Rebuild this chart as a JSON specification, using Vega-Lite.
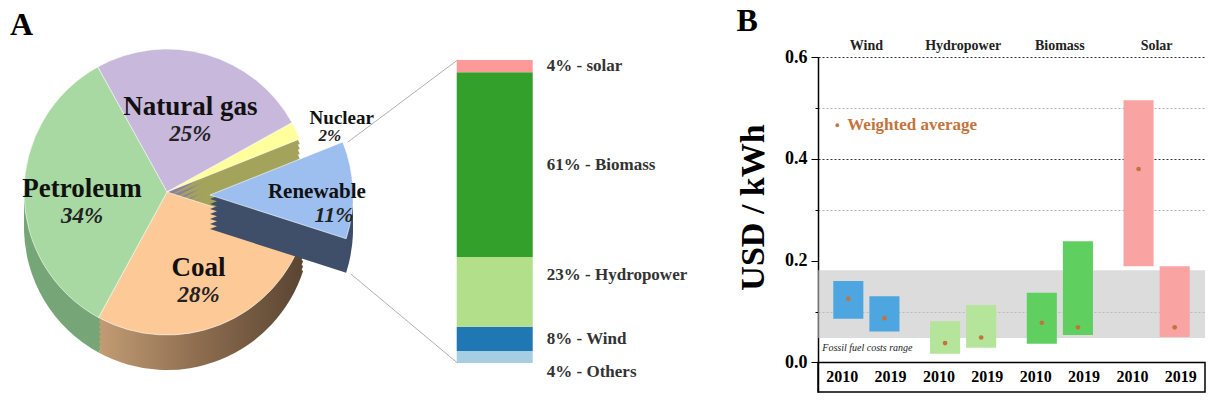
{
  "$schema": "https://vega.github.io/schema/vega-lite/v6.json",
  "padding": {"left": 0, "top": 5, "right": 6, "bottom": 0},
  "bounds": "flush",
  "spacing": 0,
  "resolve": {"scale": {"color": "independent"}},
  "config": {"view": {"stroke": null}, "font": "Liberation Serif"},
  "hconcat": [
    {
      "width": 334,
      "height": 270,
      "title": {"text": "A", "anchor": "start", "frame": "group", "font": "Liberation Serif", "fontSize": 32, "fontWeight": "bold", "color": "black", "offset": 6, "dx": 10},
      "data": {"values": [
        {"source": "Natural gas", "share": 0.25},
        {"source": "Nuclear", "share": 0.02},
        {"source": "Renewable", "share": 0.11},
        {"source": "Coal", "share": 0.28},
        {"source": "Petroleum", "share": 0.34}
      ]},
      "transform": [{"window": [{"op": "row_number", "as": "k"}]}],
      "encoding": {
        "theta": {"field": "share", "type": "quantitative", "stack": true, "scale": {"range": [-0.506, 5.777]}},
        "order": {"field": "k", "type": "quantitative"}
      },
      "layer": [
        {"mark": {"type": "arc", "outerRadius": 143, "yOffset": 35}, "encoding": {"color": {"condition": {"test": "datum.source === 'Coal'", "value": {"gradient": "linear", "x1": 0, "y1": 0, "x2": 1, "y2": 0, "stops": [{"offset": 0, "color": "#c29c74"}, {"offset": 0.5, "color": "#8c6c4e"}, {"offset": 1, "color": "#5a4532"}]}}, "field": "source", "type": "nominal", "legend": null, "scale": {"domain": ["Natural gas", "Nuclear", "Renewable", "Coal", "Petroleum"], "range": ["#8c7fa0", "#a3a35c", "#3f4e69", "#8c6c4e", "#76a677"]}}, "opacity": {"condition": {"test": "datum.source === 'Renewable'", "value": 0}, "value": 1}}},
        {"mark": {"type": "arc", "outerRadius": 143, "yOffset": 30}, "encoding": {"color": {"condition": {"test": "datum.source === 'Coal'", "value": {"gradient": "linear", "x1": 0, "y1": 0, "x2": 1, "y2": 0, "stops": [{"offset": 0, "color": "#c29c74"}, {"offset": 0.5, "color": "#8c6c4e"}, {"offset": 1, "color": "#5a4532"}]}}, "field": "source", "type": "nominal", "legend": null, "scale": {"domain": ["Natural gas", "Nuclear", "Renewable", "Coal", "Petroleum"], "range": ["#8c7fa0", "#a3a35c", "#3f4e69", "#8c6c4e", "#76a677"]}}, "opacity": {"condition": {"test": "datum.source === 'Renewable'", "value": 0}, "value": 1}}},
        {"mark": {"type": "arc", "outerRadius": 143, "yOffset": 25}, "encoding": {"color": {"condition": {"test": "datum.source === 'Coal'", "value": {"gradient": "linear", "x1": 0, "y1": 0, "x2": 1, "y2": 0, "stops": [{"offset": 0, "color": "#c29c74"}, {"offset": 0.5, "color": "#8c6c4e"}, {"offset": 1, "color": "#5a4532"}]}}, "field": "source", "type": "nominal", "legend": null, "scale": {"domain": ["Natural gas", "Nuclear", "Renewable", "Coal", "Petroleum"], "range": ["#8c7fa0", "#a3a35c", "#3f4e69", "#8c6c4e", "#76a677"]}}, "opacity": {"condition": {"test": "datum.source === 'Renewable'", "value": 0}, "value": 1}}},
        {"mark": {"type": "arc", "outerRadius": 143, "yOffset": 20}, "encoding": {"color": {"condition": {"test": "datum.source === 'Coal'", "value": {"gradient": "linear", "x1": 0, "y1": 0, "x2": 1, "y2": 0, "stops": [{"offset": 0, "color": "#c29c74"}, {"offset": 0.5, "color": "#8c6c4e"}, {"offset": 1, "color": "#5a4532"}]}}, "field": "source", "type": "nominal", "legend": null, "scale": {"domain": ["Natural gas", "Nuclear", "Renewable", "Coal", "Petroleum"], "range": ["#8c7fa0", "#a3a35c", "#3f4e69", "#8c6c4e", "#76a677"]}}, "opacity": {"condition": {"test": "datum.source === 'Renewable'", "value": 0}, "value": 1}}},
        {"mark": {"type": "arc", "outerRadius": 143, "yOffset": 15}, "encoding": {"color": {"condition": {"test": "datum.source === 'Coal'", "value": {"gradient": "linear", "x1": 0, "y1": 0, "x2": 1, "y2": 0, "stops": [{"offset": 0, "color": "#c29c74"}, {"offset": 0.5, "color": "#8c6c4e"}, {"offset": 1, "color": "#5a4532"}]}}, "field": "source", "type": "nominal", "legend": null, "scale": {"domain": ["Natural gas", "Nuclear", "Renewable", "Coal", "Petroleum"], "range": ["#8c7fa0", "#a3a35c", "#3f4e69", "#8c6c4e", "#76a677"]}}, "opacity": {"condition": {"test": "datum.source === 'Renewable'", "value": 0}, "value": 1}}},
        {"mark": {"type": "arc", "outerRadius": 143, "yOffset": 10}, "encoding": {"color": {"condition": {"test": "datum.source === 'Coal'", "value": {"gradient": "linear", "x1": 0, "y1": 0, "x2": 1, "y2": 0, "stops": [{"offset": 0, "color": "#c29c74"}, {"offset": 0.5, "color": "#8c6c4e"}, {"offset": 1, "color": "#5a4532"}]}}, "field": "source", "type": "nominal", "legend": null, "scale": {"domain": ["Natural gas", "Nuclear", "Renewable", "Coal", "Petroleum"], "range": ["#8c7fa0", "#a3a35c", "#3f4e69", "#8c6c4e", "#76a677"]}}, "opacity": {"condition": {"test": "datum.source === 'Renewable'", "value": 0}, "value": 1}}},
        {"mark": {"type": "arc", "outerRadius": 143, "yOffset": 5}, "encoding": {"color": {"condition": {"test": "datum.source === 'Coal'", "value": {"gradient": "linear", "x1": 0, "y1": 0, "x2": 1, "y2": 0, "stops": [{"offset": 0, "color": "#c29c74"}, {"offset": 0.5, "color": "#8c6c4e"}, {"offset": 1, "color": "#5a4532"}]}}, "field": "source", "type": "nominal", "legend": null, "scale": {"domain": ["Natural gas", "Nuclear", "Renewable", "Coal", "Petroleum"], "range": ["#8c7fa0", "#a3a35c", "#3f4e69", "#8c6c4e", "#76a677"]}}, "opacity": {"condition": {"test": "datum.source === 'Renewable'", "value": 0}, "value": 1}}},
        {
          "mark": {"type": "arc", "outerRadius": 143, "stroke": "white", "strokeWidth": 0.6},
          "encoding": {
            "color": {"field": "source", "type": "nominal", "legend": null,
              "scale": {"domain": ["Natural gas", "Nuclear", "Renewable", "Coal", "Petroleum"], "range": ["#c8b8db", "#ffff9e", "#9dbff0", "#fdc997", "#a8d9a2"]}},
            "opacity": {"condition": {"test": "datum.source === 'Renewable'", "value": 0}, "value": 1}
          }
        },
        {"mark": {"type": "arc", "outerRadius": 143, "xOffset": 43, "yOffset": 37}, "encoding": {"color": {"value": "#3f4e69"}, "opacity": {"condition": {"test": "datum.source === 'Renewable'", "value": 1}, "value": 0}}},
        {"mark": {"type": "arc", "outerRadius": 143, "xOffset": 43, "yOffset": 32}, "encoding": {"color": {"value": "#3f4e69"}, "opacity": {"condition": {"test": "datum.source === 'Renewable'", "value": 1}, "value": 0}}},
        {"mark": {"type": "arc", "outerRadius": 143, "xOffset": 43, "yOffset": 27}, "encoding": {"color": {"value": "#3f4e69"}, "opacity": {"condition": {"test": "datum.source === 'Renewable'", "value": 1}, "value": 0}}},
        {"mark": {"type": "arc", "outerRadius": 143, "xOffset": 43, "yOffset": 22}, "encoding": {"color": {"value": "#3f4e69"}, "opacity": {"condition": {"test": "datum.source === 'Renewable'", "value": 1}, "value": 0}}},
        {"mark": {"type": "arc", "outerRadius": 143, "xOffset": 43, "yOffset": 17}, "encoding": {"color": {"value": "#3f4e69"}, "opacity": {"condition": {"test": "datum.source === 'Renewable'", "value": 1}, "value": 0}}},
        {"mark": {"type": "arc", "outerRadius": 143, "xOffset": 43, "yOffset": 12}, "encoding": {"color": {"value": "#3f4e69"}, "opacity": {"condition": {"test": "datum.source === 'Renewable'", "value": 1}, "value": 0}}},
        {"mark": {"type": "arc", "outerRadius": 143, "xOffset": 43, "yOffset": 7}, "encoding": {"color": {"value": "#3f4e69"}, "opacity": {"condition": {"test": "datum.source === 'Renewable'", "value": 1}, "value": 0}}},
        {
          "mark": {"type": "arc", "outerRadius": 143, "xOffset": 43, "yOffset": 3, "stroke": "white", "strokeWidth": 0.6},
          "encoding": {
            "color": {"value": "#9dbff0"},
            "opacity": {"condition": {"test": "datum.source === 'Renewable'", "value": 1}, "value": 0}
          }
        },
        {
          "mark": {"type": "text", "radius": 85, "dy": -3, "fontSize": 27, "fontWeight": "bold", "color": "#111"},
          "encoding": {
            "detail": {"field": "source"},
            "text": {"condition": {"test": "indexof(['Natural gas', 'Petroleum', 'Coal'], datum.source) >= 0", "field": "source"}, "value": ""}
          }
        },
        {
          "mark": {"type": "text", "radius": 85, "dy": 24, "fontSize": 23, "fontWeight": "bold", "fontStyle": "italic", "color": "#222"},
          "encoding": {
            "detail": {"field": "source"},
            "text": {"condition": {"test": "indexof(['Natural gas', 'Petroleum', 'Coal'], datum.source) >= 0", "field": "share", "type": "quantitative", "format": ".0%"}, "value": ""}
          }
        },
        {
          "mark": {"type": "text", "radius": 85, "dx": 98, "dy": -38, "fontSize": 19, "fontWeight": "bold", "color": "#111"},
          "encoding": {
            "detail": {"field": "source"},
            "text": {"condition": {"test": "datum.source === 'Nuclear'", "field": "source"}, "value": ""}
          }
        },
        {
          "mark": {"type": "text", "radius": 85, "dx": 86, "dy": -20, "fontSize": 17, "fontWeight": "bold", "fontStyle": "italic", "color": "#222"},
          "encoding": {
            "detail": {"field": "source"},
            "text": {"condition": {"test": "datum.source === 'Nuclear'", "field": "share", "type": "quantitative", "format": ".0%"}, "value": ""}
          }
        },
        {
          "mark": {"type": "text", "radius": 85, "dx": 65, "dy": 3, "fontSize": 21, "fontWeight": "bold", "color": "#111"},
          "encoding": {
            "detail": {"field": "source"},
            "text": {"condition": {"test": "datum.source === 'Renewable'", "field": "source"}, "value": ""}
          }
        },
        {
          "mark": {"type": "text", "radius": 85, "dx": 82, "dy": 26, "fontSize": 22, "fontWeight": "bold", "fontStyle": "italic", "color": "#222"},
          "encoding": {
            "detail": {"field": "source"},
            "text": {"condition": {"test": "datum.source === 'Renewable'", "field": "share", "type": "quantitative", "format": ".0%"}, "value": ""}
          }
        }
      ],
      "resolve": {"scale": {"color": "independent"}}
    },
    {
      "width": 484,
      "height": 306,
      "data": {"values": [
        {"src": "Others", "pct": 4, "label": "4% - Others"},
        {"src": "Wind", "pct": 8, "label": "8% - Wind"},
        {"src": "Hydropower", "pct": 23, "label": "23% - Hydropower"},
        {"src": "Biomass", "pct": 61, "label": "61% - Biomass"},
        {"src": "solar", "pct": 4, "label": "4% - solar"}
      ]},
      "transform": [{"window": [{"op": "row_number", "as": "k"}]}],
      "layer": [
        {
          "data": {"values": [{"link": "upper"}]},
          "mark": {"type": "rule", "color": "#9a9a9a", "strokeWidth": 0.8},
          "encoding": {
            "x": {"datum": -1.474, "type": "quantitative", "scale": {"domain": [-1.592, 4.776], "nice": false, "zero": false}, "axis": null},
            "y": {"datum": 72.9, "type": "quantitative", "scale": {"domain": [0, 101], "nice": false}, "axis": null},
            "x2": {"datum": 0},
            "y2": {"datum": 100}
          }
        },
        {
          "data": {"values": [{"link": "lower"}]},
          "mark": {"type": "rule", "color": "#9a9a9a", "strokeWidth": 0.8},
          "encoding": {
            "x": {"datum": -1.434, "type": "quantitative"},
            "y": {"datum": 29.4, "type": "quantitative"},
            "x2": {"datum": 0},
            "y2": {"datum": 0}
          }
        },
        {
          "mark": {"type": "bar", "orient": "vertical", "width": 76},
          "encoding": {
            "x": {"datum": 0.5, "type": "quantitative"},
            "y": {"field": "pct", "type": "quantitative", "stack": "zero"},
            "color": {"field": "src", "type": "nominal", "legend": null,
              "scale": {"domain": ["Others", "Wind", "Hydropower", "Biomass", "solar"], "range": ["#a6cee3", "#1f78b4", "#b2df8a", "#33a02c", "#fb9a99"]}},
            "order": {"field": "k", "type": "quantitative"}
          }
        },
        {
          "mark": {"type": "text", "align": "left", "baseline": "middle", "fontSize": 17, "fontWeight": "bold", "color": "#333"},
          "encoding": {
            "x": {"datum": 1.2, "type": "quantitative"},
            "y": {"field": "pct", "type": "quantitative", "stack": "zero", "bandPosition": 0.5},
            "detail": {"field": "src"},
            "order": {"field": "k", "type": "quantitative"},
            "text": {"condition": {"test": "indexof(['solar', 'Biomass', 'Wind'], datum.src) >= 0", "field": "label"}, "value": ""}
          }
        },
        {
          "mark": {"type": "text", "align": "left", "baseline": "middle", "fontSize": 17, "fontWeight": "bold", "color": "#333", "dy": -17},
          "encoding": {
            "x": {"datum": 1.2, "type": "quantitative"},
            "y": {"field": "pct", "type": "quantitative", "stack": "zero", "bandPosition": 0.5},
            "detail": {"field": "src"},
            "order": {"field": "k", "type": "quantitative"},
            "text": {"condition": {"test": "datum.src === 'Hydropower'", "field": "label"}, "value": ""}
          }
        },
        {
          "mark": {"type": "text", "align": "left", "baseline": "middle", "fontSize": 17, "fontWeight": "bold", "color": "#333", "dy": 15},
          "encoding": {
            "x": {"datum": 1.2, "type": "quantitative"},
            "y": {"field": "pct", "type": "quantitative", "stack": "zero", "bandPosition": 0.5},
            "detail": {"field": "src"},
            "order": {"field": "k", "type": "quantitative"},
            "text": {"condition": {"test": "datum.src === 'Others'", "field": "label"}, "value": ""}
          }
        }
      ]
    },
    {
      "width": 387,
      "height": 335,
      "title": {"text": "B", "anchor": "start", "frame": "bounds", "font": "Liberation Serif", "fontSize": 32, "fontWeight": "bold", "color": "black", "offset": 0},
      "data": {"values": [
        {"tech": "Wind", "year": "2010", "lo": 0.086, "hi": 0.160, "avg": 0.125},
        {"tech": "Wind", "year": "2019", "lo": 0.061, "hi": 0.130, "avg": 0.087},
        {"tech": "Hydropower", "year": "2010", "lo": 0.017, "hi": 0.081, "avg": 0.038},
        {"tech": "Hydropower", "year": "2019", "lo": 0.029, "hi": 0.113, "avg": 0.049},
        {"tech": "Biomass", "year": "2010", "lo": 0.037, "hi": 0.137, "avg": 0.078},
        {"tech": "Biomass", "year": "2019", "lo": 0.054, "hi": 0.238, "avg": 0.069},
        {"tech": "Solar", "year": "2010", "lo": 0.189, "hi": 0.515, "avg": 0.380},
        {"tech": "Solar", "year": "2019", "lo": 0.050, "hi": 0.189, "avg": 0.069}
      ]},
      "layer": [
        {
          "data": {"values": [{"range": "Fossil fuel costs range", "lo": 0.048, "hi": 0.181}]},
          "mark": {"type": "rect", "color": "#c4c4c4", "opacity": 0.6},
          "encoding": {
            "y": {"field": "lo", "type": "quantitative", "title": "USD / kWh",
              "scale": {"domain": [-0.058, 0.6], "nice": false, "zero": false},
              "axis": {
                "values": [0, 0.1, 0.2, 0.3, 0.4, 0.5, 0.6],
                "labelExpr": "round(datum.value * 10) % 2 == 0 ? format(datum.value, '.1f') : ''",
                "title": "USD / kWh",
                "titleFont": "Liberation Serif", "titleFontSize": 34, "titleFontWeight": "bold", "titleColor": "black", "titlePadding": 14, "titleY": 150,
                "labelFont": "Liberation Serif", "labelFontSize": 18, "labelFontWeight": "bold", "labelColor": "black", "labelPadding": 4,
                "tickColor": "black",
                "tickSize": {"condition": {"test": "round(datum.value * 10) % 2 == 1", "value": 3}, "value": 7},
                "domainColor": "black", "domainWidth": 1.5,
                "grid": true, "gridDash": [2, 2],
                "gridColor": {"condition": {"test": "round(datum.value * 10) % 2 == 0", "value": "#333"}, "value": "#b0b0b0"},
                "gridOpacity": {"condition": {"test": "round(datum.value * 10) <= 2 && round(datum.value * 10) % 2 == 0", "value": 0}, "value": 1}
              }},
            "y2": {"field": "hi"}
          }
        },
        {
          "data": {"values": [{"range": "Fossil fuel costs range", "lo": 0.048, "hi": 0.181}]},
          "mark": {"type": "text", "align": "left", "baseline": "top", "fontSize": 10, "fontStyle": "italic", "color": "#222", "dx": -8, "dy": 5},
          "encoding": {
            "x": {"datum": "Wind", "bandPosition": 0},
            "y": {"field": "lo", "type": "quantitative", "title": "USD / kWh"},
            "text": {"field": "range"}
          }
        },
        {
          "mark": {"type": "bar"},
          "encoding": {
            "x": {"field": "tech", "type": "nominal", "title": null, "sort": ["Wind", "Hydropower", "Biomass", "Solar"],
              "scale": {"paddingInner": 0.254, "paddingOuter": 0.127},
              "axis": {"orient": "top", "domain": false, "ticks": false, "labelAngle": 0, "labelAlign": "center", "labelPadding": 12, "labelFont": "Liberation Serif", "labelFontSize": 14, "labelFontWeight": "bold", "labelColor": "#222"}},
            "xOffset": {"field": "year", "type": "nominal", "scale": {"type": "band", "paddingInner": 0.167, "paddingOuter": 0.083}},
            "y": {"field": "lo", "type": "quantitative", "title": "USD / kWh"},
            "y2": {"field": "hi"},
            "color": {"field": "tech", "type": "nominal", "legend": null,
              "scale": {"domain": ["Wind", "Hydropower", "Biomass", "Solar"], "range": ["#4da6df", "#b4e59b", "#5fd05f", "#f9a3a3"]}}
          }
        },
        {
          "mark": {"type": "point", "filled": true, "size": 22, "color": "#c4733d", "opacity": 1},
          "encoding": {
            "x": {"field": "tech", "type": "nominal", "title": null, "sort": ["Wind", "Hydropower", "Biomass", "Solar"]},
            "xOffset": {"field": "year", "type": "nominal", "scale": {"type": "band", "paddingInner": 0.167, "paddingOuter": 0.083}},
            "y": {"field": "avg", "type": "quantitative", "title": "USD / kWh"}
          }
        },
        {
          "data": {"values": [{"box": "years"}]},
          "mark": {"type": "rect", "fill": "white", "fillOpacity": 0, "stroke": "black", "strokeWidth": 1.5},
          "encoding": {
            "y": {"datum": 0},
            "y2": {"datum": -0.058}
          }
        },
        {
          "mark": {"type": "text", "fontSize": 16, "fontWeight": "bold", "color": "black", "baseline": "middle"},
          "encoding": {
            "x": {"field": "tech", "type": "nominal", "title": null, "sort": ["Wind", "Hydropower", "Biomass", "Solar"]},
            "xOffset": {"field": "year", "type": "nominal", "scale": {"type": "band", "paddingInner": 0.5, "paddingOuter": 0}},
            "y": {"datum": -0.029},
            "text": {"field": "year"}
          }
        },
        {
          "data": {"values": [{"label": "Weighted average"}]},
          "mark": {"type": "point", "filled": true, "size": 14, "color": "#c4733d", "opacity": 1, "xOffset": 7},
          "encoding": {
            "x": {"datum": "Wind", "bandPosition": 0},
            "y": {"datum": 0.466}
          }
        },
        {
          "data": {"values": [{"label": "Weighted average"}]},
          "mark": {"type": "text", "align": "left", "baseline": "middle", "fontSize": 17, "fontWeight": "bold", "color": "#c4733d", "dx": 17},
          "encoding": {
            "x": {"datum": "Wind", "bandPosition": 0},
            "y": {"datum": 0.466},
            "text": {"field": "label"}
          }
        }
      ],
      "resolve": {"scale": {"xOffset": "independent"}}
    }
  ]
}
